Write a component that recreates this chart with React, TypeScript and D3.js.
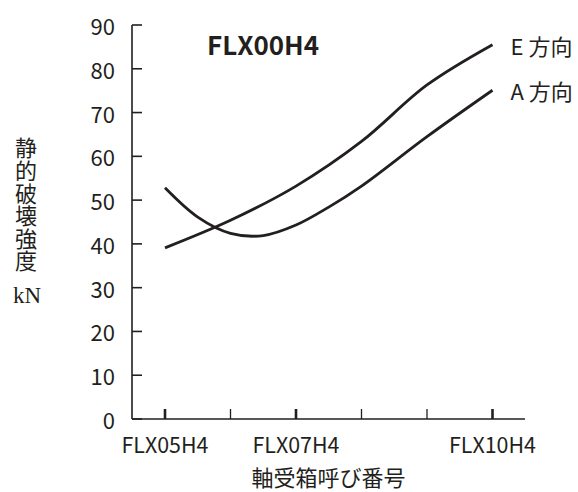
import React from "react";
import * as d3 from "d3";

const categories = ["FLX05H4", "FLX06H4", "FLX07H4", "FLX08H4", "FLX09H4", "FLX10H4"];
const tickLabels = ["FLX05H4", "", "FLX07H4", "", "", "FLX10H4"];
const majorTicks = [true, false, true, false, false, true];
const yTicks = [0, 10, 20, 30, 40, 50, 60, 70, 80, 90];
const ePositions = [0, 1, 2, 3, 4, 5];
const eValues = [39.1, 45.4, 53.2, 63.4, 76.3, 85.5];
const aPositions = [0, 0.5, 1, 1.5, 2, 2.5, 3, 4, 5];
const aValues = [52.8, 46.1, 42.4, 41.9, 44.3, 48.4, 53.2, 64.5, 75.1];
const seriesNames = ["E 方向", "A 方向"];
const chartTitle = "FLX00H4";
const yLabel = "静的破壊強度";
const yUnit = "kN";
const xTitle = "軸受箱呼び番号";

const INK = "#231f20";
const FONT = "'Noto Sans CJK JP', 'Noto Sans', sans-serif";

export default function App() {
  const x = d3.scaleLinear().domain([0, categories.length - 1]).range([165, 492.5]);
  const y = d3.scaleLinear().domain([0, 90]).range([419, 25]);
  const line = d3
    .line<[number, number]>()
    .x((d) => x(d[0]))
    .y((d) => y(d[1]))
    .curve(d3.curveCatmullRom.alpha(0.5));
  const series: [number, number][][] = [
    ePositions.map((p, i) => [p, eValues[i]]),
    aPositions.map((p, i) => [p, aValues[i]]),
  ];
  const axisX = 132;
  const axisY = y(0);

  return (
    <svg
      width={578}
      height={492}
      style={{ position: "absolute", left: 0, top: 0, background: "#fff" }}
      fontFamily={FONT}
    >
      {/* y axis */}
      <line x1={axisX} x2={axisX} y1={y(90)} y2={axisY} stroke={INK} strokeWidth={1.6} />
      {yTicks.map((t) => (
        <g key={t}>
          <line x1={axisX} x2={axisX + 10} y1={y(t)} y2={y(t)} stroke={INK} strokeWidth={1.6} />
          <text
            x={115}
            y={y(t)}
            textAnchor="end"
            dominantBaseline="central"
            fontSize={22}
            fill={INK}
          >
            {t}
          </text>
        </g>
      ))}
      {/* x axis */}
      <line x1={axisX} x2={525} y1={axisY} y2={axisY} stroke={INK} strokeWidth={1.6} />
      {categories.map((c, i) => (
        <g key={c}>
          <line
            x1={x(i)}
            x2={x(i)}
            y1={axisY}
            y2={axisY - 10}
            stroke={INK}
            strokeWidth={majorTicks[i] ? 2.6 : 1.3}
          />
          {tickLabels[i] && (
            <text
              x={x(i)}
              y={453}
              textAnchor="middle"
              fontSize={22}
              fill={INK}
              textLength={87}
              lengthAdjust="spacingAndGlyphs"
            >
              {tickLabels[i]}
            </text>
          )}
        </g>
      ))}
      {/* series */}
      {series.map((s, k) => {
        const last = s[s.length - 1];
        return (
          <g key={k}>
            <path d={line(s) || ""} fill="none" stroke={INK} strokeWidth={2.8} />
            <text
              x={x(last[0]) + 18}
              y={y(last[1])}
              dominantBaseline="central"
              fontSize={22}
              fill={INK}
            >
              {seriesNames[k]}
            </text>
          </g>
        );
      })}
      {/* title */}
      <text
        x={207}
        y={55}
        fontSize={26}
        fontWeight="bold"
        fill={INK}
        textLength={112}
        lengthAdjust="spacingAndGlyphs"
      >
        {chartTitle}
      </text>
      {/* y label (vertical) */}
      <text
        x={26}
        y={137}
        fontSize={22}
        fill={INK}
        style={{ writingMode: "vertical-rl" as any }}
        letterSpacing={0.6}
      >
        {yLabel}
      </text>
      <text
        x={27}
        y={303}
        textAnchor="middle"
        fontSize={23}
        fontFamily="'Liberation Serif', 'DejaVu Serif', serif"
        fill={INK}
      >
        {yUnit}
      </text>
      {/* x title */}
      <text x={328.5} y={486} textAnchor="middle" fontSize={22} fill={INK}>
        {xTitle}
      </text>
    </svg>
  );
}
